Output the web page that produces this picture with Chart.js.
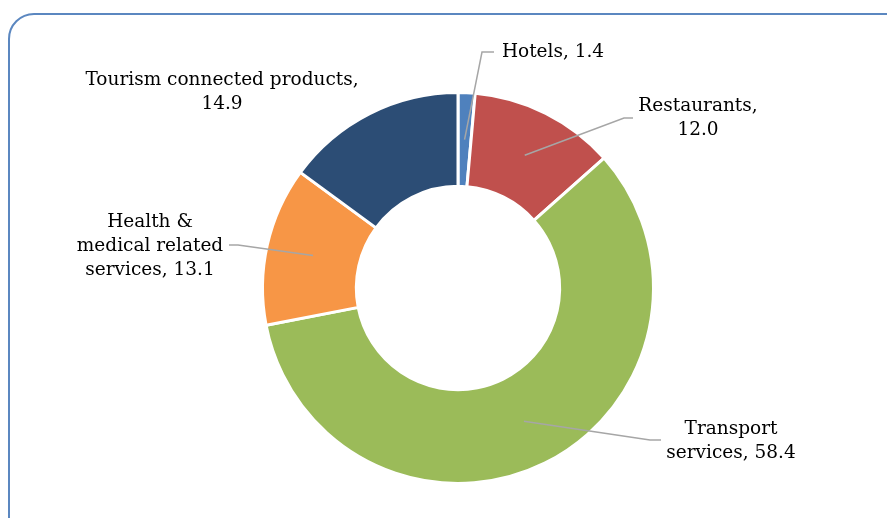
<!DOCTYPE html>
<html>
<head>
<meta charset="utf-8">
<script src="https://cdn.jsdelivr.net/npm/chart.js@4"></script>
<style>
  html, body { margin: 0; padding: 0; background: #fff; overflow: hidden; }
  #wrap { position: relative; width: 887px; height: 518px; }
  #frame {
    position: absolute; left: 8px; top: 13px; width: 920px; height: 540px;
    border: 2px solid #5B87C0; border-radius: 26px; box-sizing: border-box;
  }
  canvas { position: absolute; left: 0; top: 0; }
</style>
</head>
<body>
<div id="wrap">
  <div id="frame"></div>
  <canvas id="shareChart" width="887" height="518"></canvas>
</div>
<script>
// =====> data <=====
const categories = [
  "Hotels",
  "Restaurants",
  "Transport services",
  "Health & medical related services",
  "Tourism connected products",
];
const shares = [1.4, 12.0, 58.4, 13.1, 14.9];
const sliceColors = ["#4F81BD", "#C0504D", "#9BBB59", "#F79646", "#2C4D75"];

// label text lines + where they sit (style only)
const labelLines = [
  ["Hotels, 1.4"],
  ["Restaurants,", "12.0"],
  ["Transport", "services, 58.4"],
  ["Health &", "medical related", "services, 13.1"],
  ["Tourism connected products,", "14.9"],
];
const labelBoxes = [
  { x: 553, y: 52, elbow: [482, 52], end: [494, 52] },
  { x: 698, y: 118, elbow: [624, 118], end: [633, 118] },
  { x: 731, y: 441, elbow: [650, 440], end: [661, 440] },
  { x: 150, y: 246, elbow: [238, 245], end: [229, 245] },
  { x: 222, y: 92, elbow: null, end: null },
];

// =====> leader lines + labels plugin <=====
const calloutPlugin = {
  id: "callouts",
  afterDraw(chart) {
    const ctx = chart.ctx;
    const arcs = chart.getDatasetMeta(0).data;
    ctx.save();
    arcs.forEach((arc, i) => {
      const box = labelBoxes[i];
      if (box.elbow) {
        const mid = (arc.startAngle + arc.endAngle) / 2;
        const r = (arc.innerRadius + arc.outerRadius) / 2;
        const ax = arc.x + Math.cos(mid) * r;
        const ay = arc.y + Math.sin(mid) * r;
        ctx.strokeStyle = "#A6A6A6";
        ctx.lineWidth = 1.5;
        ctx.beginPath();
        ctx.moveTo(ax, ay);
        ctx.lineTo(box.elbow[0], box.elbow[1]);
        ctx.lineTo(box.end[0], box.end[1]);
        ctx.stroke();
      }
      const lines = labelLines[i];
      const lh = 24;
      ctx.fillStyle = "#000";
      ctx.font = "18.5px 'DejaVu Serif'";
      ctx.textAlign = "center";
      ctx.textBaseline = "middle";
      const top = box.y - ((lines.length - 1) * lh) / 2;
      lines.forEach((t, k) => ctx.fillText(t, box.x, top + k * lh));
    });
    ctx.restore();
  },
};

new Chart("shareChart", {
  type: "doughnut",
  data: {
    labels: categories,
    datasets: [
      {
        data: shares,
        backgroundColor: sliceColors,
        borderColor: "#fff",
        borderWidth: 3,
      },
    ],
  },
  options: {
    responsive: false,
    animation: false,
    cutout: "52%",
    rotation: 0,
    layout: { padding: { top: 91, bottom: 33, left: 261, right: 232 } },
    plugins: {
      legend: { display: false },
      tooltip: { enabled: false },
    },
  },
  plugins: [calloutPlugin],
});
</script>
</body>
</html>
